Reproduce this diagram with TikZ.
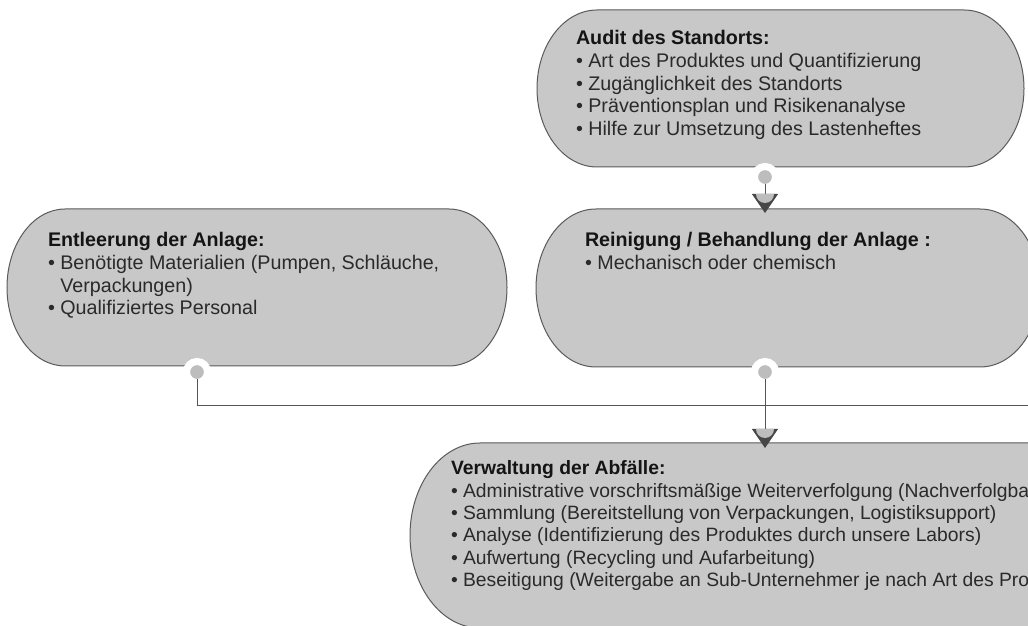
\documentclass[tikz,border=0pt]{standalone}
\usepackage{fontspec}
\setmainfont{Liberation Sans}
\usetikzlibrary{calc,arrows.meta}
\definecolor{boxfill}{HTML}{C8C8C8}
\definecolor{boxline}{HTML}{5A5A5A}
\definecolor{connc}{HTML}{555555}
\definecolor{dotfill}{HTML}{BDBDBD}
\definecolor{tipcol}{HTML}{474747}
\definecolor{txt}{HTML}{2A2A2A}
\definecolor{ttl}{HTML}{141414}
\tikzset{
  boxarea/.style={rectangle, inner sep=0pt, outer sep=0pt},
  boxshape/.style={fill=boxfill, draw=boxline, line width=1pt},
  boxtext/.style={inner sep=0pt, outer sep=0pt, anchor=base west, text=txt,
    font=\fontsize{19.7}{22.6}\selectfont},
  widetext/.style={boxtext, font=\fontsize{19.3}{22.3}\selectfont},
  dotnode/.style={circle, inner sep=0pt, outer sep=0pt, minimum size=21pt,
    fill=dotfill, draw=white, line width=7pt},
  connline/.style={draw=connc, line width=1pt},
  tipped/.style={-{Triangle[width=26pt,length=19pt,fill=tipcol,color=tipcol]}},
  tipcap/.style={fill=dotfill}
}
\newcommand\stadium[2]{%
  \path[boxshape] let \p1=(#1.north west), \p2=(#1.south east), \n1={(\y1-\y2)/2} in
   (\x1+#2pt,\y1) -- (\x2-#2pt,\y1)
   arc[start angle=90,end angle=-90,x radius=#2pt,y radius=\n1]
   -- (\x1+#2pt,\y2)
   arc[start angle=270,end angle=90,x radius=#2pt,y radius=\n1] -- cycle;}
\newcommand\tipcapat[2]{%
  \fill[tipcap] ($(#1)+(-9,#2)$) arc[start angle=180,end angle=360,radius=9pt] -- cycle;}
\newcommand\ttlfmt[1]{\textcolor{ttl}{\textbf{#1}}}
\begin{document}
\begin{tikzpicture}[x=1pt,y=1pt]
\useasboundingbox (0,0) rectangle (1028,626);
\clip (0,0) rectangle (1028,626);
% box areas
\node[boxarea, minimum width=487pt, minimum height=157pt] (audit) at (780.5,537.5) {};
\node[boxarea, minimum width=504pt, minimum height=158pt] (rein) at (788,338) {};
\node[boxarea, minimum width=500pt, minimum height=157pt] (entl) at (257,338.5) {};
\node[boxarea, minimum width=750pt, minimum height=185pt] (verw) at (785,90.5) {};
\stadium{audit}{60}
\stadium{rein}{60}
\stadium{entl}{58}
\stadium{verw}{70}
% texts
\node[boxtext] (auditT) at (576,581) {\begin{tabular}[t]{@{}l@{}}
\ttlfmt{Audit des Standorts:}\\
• Art des Produktes und Quantifizierung\\
• Zugänglichkeit des Standorts\\
• Präventionsplan und Risikenanalyse\\
• Hilfe zur Umsetzung des Lastenheftes
\end{tabular}};
\node[boxtext] (reinT) at (585,379) {\begin{tabular}[t]{@{}l@{}}
\ttlfmt{Reinigung / Behandlung der Anlage :}\\
• Mechanisch oder chemisch
\end{tabular}};
\node[boxtext] (entlT) at (48,379) {\begin{tabular}[t]{@{}l@{}}
\ttlfmt{Entleerung der Anlage:}\\
• Benötigte Materialien (Pumpen, Schläuche,\\
\phantom{• }Verpackungen)\\
• Qualifiziertes Personal
\end{tabular}};
\node[widetext] (verwT) at (451,151) {\begin{tabular}[t]{@{}l@{}}
\ttlfmt{Verwaltung der Abfälle:}\\
• Administrative vorschriftsmäßige Weiterverfolgung (Nachverfolgba\\
• Sammlung (Bereitstellung von Verpackungen, Logistiksupport)\\
• Analyse (Identifizierung des Produktes durch unsere Labors)\\
• Aufwertung (Recycling und Aufarbeitung)\\
• Beseitigung (Weitergabe an Sub-Unternehmer je nach Art des Pro
\end{tabular}};
% connector dots
\node[dotnode] (d1) at (765,449) {};
\node[dotnode] (d2) at (765,254) {};
\node[dotnode] (d3) at (197,254) {};
\coordinate (t1) at (765,413);
\coordinate (t2) at (765,178);
\coordinate (far) at (1040,220);
% connectors
\draw[connline, shorten <=7pt] (d3.center) |- (far);
\draw[connline, tipped, shorten <=7pt] (d1.center) -- (t1);
\draw[connline, tipped, shorten <=7pt] (d2.center) -- (t2);
\tipcapat{t1}{19}
\tipcapat{t2}{19}
\end{tikzpicture}
\end{document}
